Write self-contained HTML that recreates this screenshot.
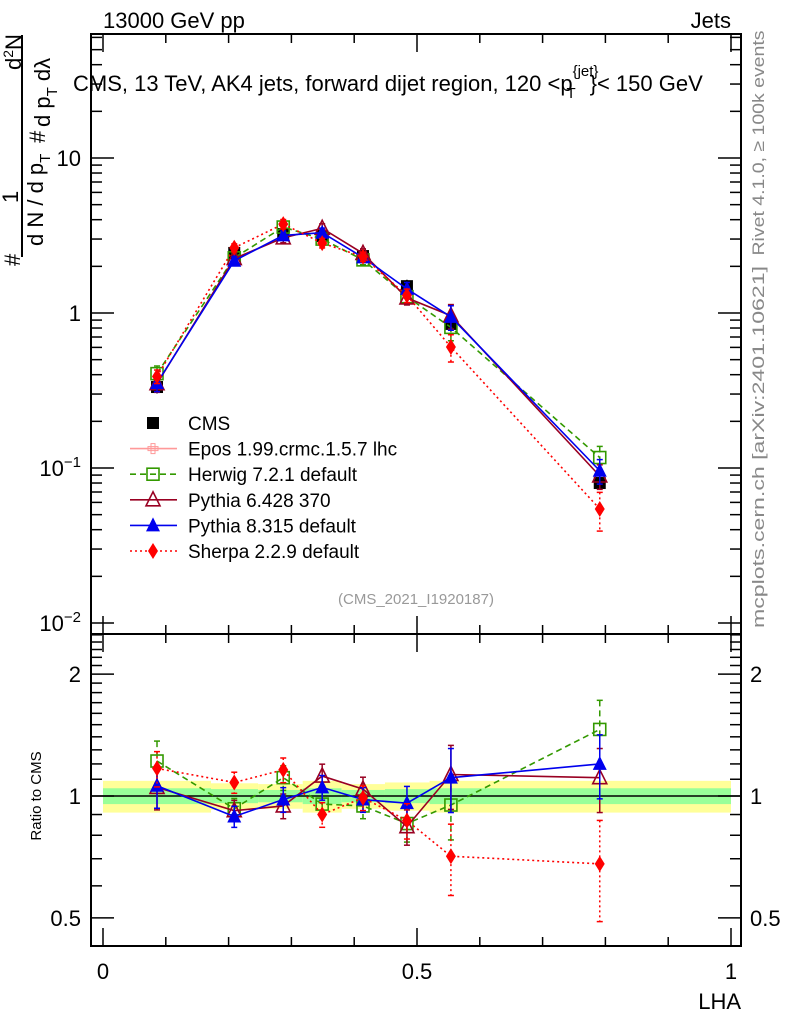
<!DOCTYPE html>
<html><head><meta charset="utf-8"><style>
body{margin:0;background:#fff}
svg{display:block;font-family:"Liberation Sans",sans-serif}
</style></head><body>
<svg id="c" width="786" height="1024" xmlns="http://www.w3.org/2000/svg">
<g id="bands"></g>
<g id="ticks"></g>
<rect x="91" y="34" width="650" height="600" fill="none" stroke="#000" stroke-width="2"/>
<rect x="91" y="634" width="650" height="312" fill="none" stroke="#000" stroke-width="2"/>
<line x1="91" x2="741" y1="796" y2="796" stroke="#000" stroke-width="1.5"/>
<g id="series"></g>
<text x="103" y="28" font-size="22">13000 GeV pp</text>
<text x="731" y="28" font-size="22" text-anchor="end">Jets</text>
<text x="73" y="91" font-size="22">CMS, 13 TeV, AK4 jets, forward dijet region, 120 &lt;p<tspan font-size="15" dy="-15">{jet}</tspan><tspan font-size="15" dx="-32" dy="22">T</tspan><tspan dy="-7" dx="14">}&lt; 150 GeV</tspan></text>
<text x="416" y="604" font-size="15" fill="#999" text-anchor="middle">(CMS_2021_I1920187)</text>
<text transform="translate(764,143) rotate(-90)" font-size="17" fill="#888" text-anchor="middle" textLength="225" lengthAdjust="spacingAndGlyphs">Rivet 4.1.0, ≥ 100k events</text>
<text transform="translate(764,447) rotate(-90)" font-size="17" fill="#888" text-anchor="middle" textLength="362" lengthAdjust="spacingAndGlyphs">mcplots.cern.ch [arXiv:2401.10621]</text>
<g font-size="22">
<line x1="22" x2="22" y1="257" y2="35" stroke="#000" stroke-width="2"/>
<text transform="translate(20,266) rotate(-90)">#</text>
<text transform="translate(18,203) rotate(-90)">1</text>
<text transform="translate(21,70) rotate(-90)">d<tspan font-size="14" dy="-8">2</tspan><tspan dy="8">N</tspan></text>
<text transform="translate(43,246) rotate(-90)">d N / d p<tspan font-size="15" dy="7">T</tspan></text>
<text transform="translate(45,143) rotate(-90)">#</text>
<text transform="translate(50,127) rotate(-90)">d p<tspan font-size="15" dy="7">T</tspan><tspan dy="-7"> dλ</tspan></text>
</g>
<text transform="translate(41,796) rotate(-90)" font-size="15" text-anchor="middle">Ratio to CMS</text>
<text x="741" y="1009" font-size="22" text-anchor="end">LHA</text>
<g id="legend"></g>
</svg>
<script>
const xs=[0.086,0.209,0.287,0.349,0.414,0.484,0.554,0.791];
const cms=[0.333,2.44,3.23,3.14,2.33,1.49,0.85,0.08];
const bandEdges=[0,0.172,0.247,0.318,0.380,0.449,0.520,0.590,1.0];
const bandTot=[0.09,0.075,0.07,0.09,0.07,0.08,0.09,0.09];
const bandStat=[0.045,0.04,0.035,0.045,0.035,0.04,0.045,0.045];
const herwigR=[1.22,0.93,1.11,0.955,0.945,0.855,0.95,1.46];
const pythia6R=[1.05,0.92,0.945,1.12,1.04,0.84,1.13,1.11];
const pythia8R=[1.06,0.89,0.98,1.05,0.98,0.96,1.11,1.2];
const sherpaR=[1.17,1.08,1.16,0.9,0.99,0.87,0.71,0.68];
const modelErr=[0.12,0.06,0.07,0.07,0.07,0.1,0.18,0.18];
const sherpaErr=[0.1,0.06,0.07,0.07,0.07,0.1,0.2,0.28];
const xTicks=[0,0.5,1];
const mainTicks=[10,1,0.1,0.01];
const mainTickLabels=["10","1","10^-1","10^-2"];
const ratioTicks=[2,1,0.5];
const ratioTickLabels=["2","1","0.5"];
const legendNames=["CMS","Epos 1.99.crmc.1.5.7 lhc","Herwig 7.2.1 default","Pythia 6.428 370","Pythia 8.315 default","Sherpa 2.2.9 default"];

const NS="http://www.w3.org/2000/svg";
const X=v=>103+628*v;
const Y=v=>313-155*Math.log10(v);
const R=v=>796-405*Math.log10(v);
function mk(tag,at,parent){const e=document.createElementNS(NS,tag);for(const k in at)e.setAttribute(k,at[k]);parent.appendChild(e);return e;}
const bands=document.getElementById('bands'),ticks=document.getElementById('ticks'),ser=document.getElementById('series'),leg=document.getElementById('legend');

for(let i=0;i<bandTot.length;i++){
  const x0=X(bandEdges[i]),x1=X(bandEdges[i+1]);
  let r=mk('rect',{x:x0,y:R(1+bandTot[i]),width:x1-x0,height:R(1-bandTot[i])-R(1+bandTot[i]),fill:'#ffff99'},bands);
  
  
  r=mk('rect',{x:x0,y:R(1+bandStat[i]),width:x1-x0,height:R(1-bandStat[i])-R(1+bandStat[i]),fill:'#99ff99'},bands);
  
  
}
for(let k=0;k<=10;k++){const v=k/10,x=X(v),L=(k%5==0)?18:9;
  for(const [yt,yb] of [[34,634],[634,946]]){
    mk('line',{x1:x,x2:x,y1:yt,y2:yt+L,stroke:'#000','stroke-width':1.5},ticks);
    mk('line',{x1:x,x2:x,y1:yb,y2:yb-L,stroke:'#000','stroke-width':1.5},ticks);
  }}
xTicks.forEach(v=>{const t=mk('text',{x:X(v),y:979,'font-size':22,'text-anchor':'middle'},ticks);t.textContent=String(v);
  
  });
for(let d=-2;d<=1;d++)for(let m=1;m<=9;m++){const v=m*Math.pow(10,d),y=Y(v);if(y<34||y>634)continue;const L=m==1?23:11;
  mk('line',{x1:91,x2:91+L,y1:y,y2:y,stroke:'#000','stroke-width':1.5},ticks);
  mk('line',{x1:741,x2:741-L,y1:y,y2:y,stroke:'#000','stroke-width':1.5},ticks);}
mainTicks.forEach((v,i)=>{const s=mainTickLabels[i];const t=mk('text',{x:81,y:Y(v)+8,'font-size':22,'text-anchor':'end'},ticks);
  if(s.includes('^')){const p=s.split('^');t.textContent=p[0];const sp=mk('tspan',{'font-size':15,dy:-9},t);sp.textContent=p[1].replace('-','−');}else t.textContent=s;
  
  });
for(let k=4;k<=25;k++){const v=k/10,y=R(v);if(y<634||y>946)continue;const L=(k==5||k==10||k==20)?23:11;
  mk('line',{x1:91,x2:91+L,y1:y,y2:y,stroke:'#000','stroke-width':1.5},ticks);
  mk('line',{x1:741,x2:741-L,y1:y,y2:y,stroke:'#000','stroke-width':1.5},ticks);}
ratioTicks.forEach((v,i)=>{for(const [x,a] of [[81,'end'],[750,'start']]){const t=mk('text',{x:x,y:R(v)+8,'font-size':22,'text-anchor':a},ticks);t.textContent=ratioTickLabels[i];
  
  }});

function marker(g,type,x,y,c){
  if(type=='sq')mk('rect',{x:x-6,y:y-6,width:12,height:12,fill:'#000'},g);
  else if(type=='osq')mk('rect',{x:x-6,y:y-6,width:12,height:12,fill:'none',stroke:c,'stroke-width':1.6},g);
  else if(type=='otri')mk('polygon',{points:`${x},${y-8} ${x-7},${y+6} ${x+7},${y+6}`,fill:'none',stroke:c,'stroke-width':1.6},g);
  else if(type=='tri')mk('polygon',{points:`${x},${y-8} ${x-7},${y+6} ${x+7},${y+6}`,fill:c},g);
  else if(type=='dia')mk('polygon',{points:`${x},${y-8} ${x-5},${y} ${x},${y+8} ${x+5},${y}`,fill:c},g);
  else if(type=='cross'){mk('rect',{x:x-2,y:y-5,width:4,height:10,fill:'none',stroke:c},g);mk('rect',{x:x-5,y:y-2,width:10,height:4,fill:'none',stroke:c},g);}
}
const models=[
 {n:'herwig',r:herwigR,e:modelErr,c:'#339900',d:'6,4',m:'osq'},
 {n:'pythia6',r:pythia6R,e:modelErr,c:'#990022',d:'',m:'otri'},
 {n:'pythia8',r:pythia8R,e:modelErr,c:'#0000ee',d:'',m:'tri'},
 {n:'sherpa',r:sherpaR,e:sherpaErr,c:'#ff0000',d:'2,3',m:'dia'}];
const gc=mk('g',{},ser);


xs.forEach((x,i)=>{const y=Y(cms[i]);mk('line',{x1:X(x),x2:X(x),y1:Y(cms[i]*1.1),y2:Y(cms[i]/1.1),stroke:'#000','stroke-width':1.5},gc);marker(gc,'sq',X(x),y,'#000');});
models.forEach(md=>{
  for(const panel of ['main','ratio']){
    const g=mk('g',{},ser);
    
    
    const f=panel=='main'?(i,s)=>Y(cms[i]*md.r[i]*s):(i,s)=>R(md.r[i]*s);
    const pts=xs.map((x,i)=>X(x)+','+f(i,1)).join(' ');
    mk('polyline',{points:pts,fill:'none',stroke:md.c,'stroke-width':1.6,'stroke-dasharray':md.d},g);
    xs.forEach((x,i)=>{const px=X(x),e=md.e[i];
      mk('line',{x1:px,x2:px,y1:f(i,1+e),y2:f(i,1-e),stroke:md.c,'stroke-width':1.5,'stroke-dasharray':md.d},g);
      mk('line',{x1:px-3,x2:px+3,y1:f(i,1+e),y2:f(i,1+e),stroke:md.c,'stroke-width':1.5},g);
      mk('line',{x1:px-3,x2:px+3,y1:f(i,1-e),y2:f(i,1-e),stroke:md.c,'stroke-width':1.5},g);
      marker(g,md.m,px,f(i,1),md.c);});
  }
});
const legStyles=[{c:'#000',m:'sq',d:null},{c:'#ff9999',m:'cross',d:''},{c:'#339900',m:'osq',d:'6,4'},{c:'#990022',m:'otri',d:''},{c:'#0000ee',m:'tri',d:''},{c:'#ff0000',m:'dia',d:'2,3'}];
legendNames.forEach((n,i)=>{const y=423+25.6*i,s=legStyles[i];
  const g=mk('g',{},leg);
  
  
  if(s.d!==null)mk('line',{x1:130,x2:177,y1:y,y2:y,stroke:s.c,'stroke-width':1.6,'stroke-dasharray':s.d},g);
  marker(g,s.m,153,y,s.c);
  const t=mk('text',{x:188,y:y+7,'font-size':19},g);t.textContent=n;});
</script>
</body></html>
